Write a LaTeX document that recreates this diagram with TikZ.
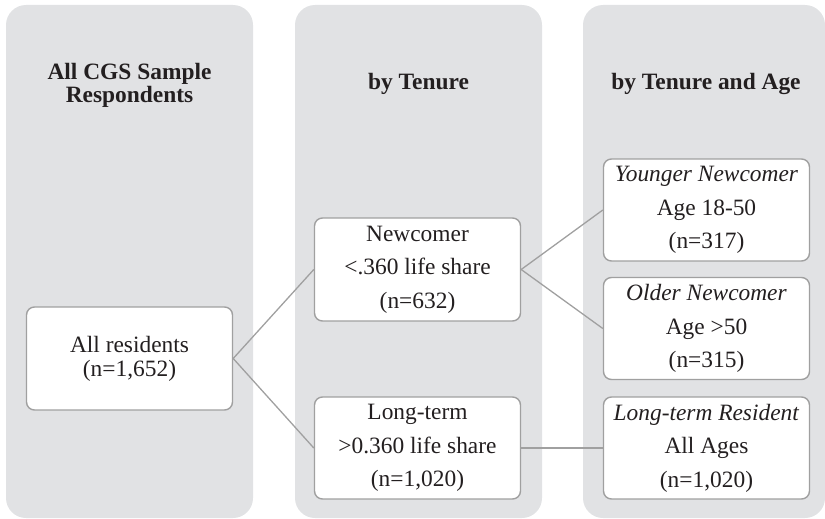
\documentclass[tikz,border=0pt]{standalone}
\usepackage{fontspec}
\setmainfont{Liberation Serif}
\definecolor{panelgray}{HTML}{E1E2E4}
\definecolor{edgegray}{HTML}{A0A0A0}
\definecolor{ink}{HTML}{231F20}
\begin{document}
\begin{tikzpicture}[x=1pt,y=-1pt,
  panel/.style={fill=panelgray, draw=none, rounded corners=20pt},
  boxnode/.style={draw=edgegray, line width=1.4pt, fill=white, rounded corners=8pt,
    minimum width=206pt, minimum height=102pt, inner sep=0pt, align=center,
    text=ink, font=\fontsize{23.4}{33.5}\selectfont},
  titlenode/.style={text=ink, align=center, font=\bfseries\fontsize{23.4}{23}\selectfont},
  link/.style={draw=edgegray, line width=1.3pt}]
\useasboundingbox (0,0) rectangle (825,519);
% panels
\fill[panel] (6,5) rectangle (253,518);
\fill[panel] (295,5) rectangle (542,518);
\fill[panel] (583,5) rectangle (825,518);
% titles
\node[titlenode] (t1) at (129.5,85) {All CGS Sample\\Respondents};
\node[titlenode, anchor=base] (t2) at (418.5,89) {by Tenure};
\node[titlenode, anchor=base] (t3) at (706,89) {by Tenure and Age};
% boxes
\node[boxnode, minimum width=206pt, minimum height=103pt, font=\fontsize{23.4}{24}\selectfont] (all) at (129.5,358.5) {All residents\\(n=1,652)};
\node[boxnode, minimum height=103pt] (new) at (417.5,269.5) {Newcomer\\<.360 life share\\(n=632)};
\node[boxnode] (long) at (417.5,448) {Long-term\\>0.360 life share\\(n=1,020)};
\node[boxnode] (young) at (706.5,210) {\textit{Younger Newcomer}\\Age 18-50\\(n=317)};
\node[boxnode] (old) at (706.5,328.5) {\textit{Older Newcomer}\\Age >50\\(n=315)};
\node[boxnode] (ltr) at (706.5,448) {\textit{Long-term Resident}\\All Ages\\(n=1,020)};
% connectors
\draw[link] (all.east) -- (new.west);
\draw[link] (all.east) -- (long.west);
\draw[link] (new.east) -- (young.west);
\draw[link] (new.east) -- (old.west);
\draw[link] (long.east) -- (ltr.west);
\end{tikzpicture}
\end{document}
